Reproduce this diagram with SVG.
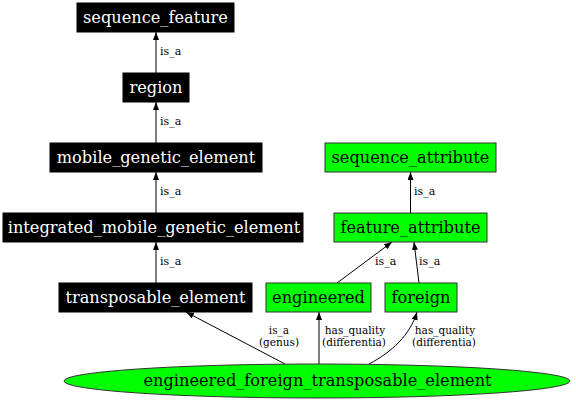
<svg xmlns="http://www.w3.org/2000/svg" width="576" height="401" viewBox="0 0 576 401">
<defs>
<marker id="arr" markerUnits="userSpaceOnUse" markerWidth="9" markerHeight="7" refX="8" refY="3" orient="auto">
<path d="M0,0 L8,3 L0,6 z" fill="#000"/>
</marker>
<style>
.bk rect{fill:#000;stroke:#000;stroke-width:1}
.gr rect,.gr ellipse{fill:#00ff00;stroke:#333;stroke-width:1}
.bk text{fill:#fff}
.nt{font-family:"DejaVu Serif",serif;font-size:16.2px;text-anchor:middle}
.gr text{fill:#000}
.e path{fill:none;stroke:#000;stroke-width:1;marker-end:url(#arr)}
.lb{font-family:"DejaVu Serif",serif;font-size:11px;fill:#000}
.ls{font-size:10.5px}
.lm{text-anchor:middle}
</style>
</defs>
<rect width="576" height="401" fill="#fff"/>
<g id="connectors" class="e">
<path d="M156,73 L156,32"/>
<path d="M156,143 L156,102"/>
<path d="M156,213 L156,172"/>
<path d="M156,283 L156,242"/>
<path d="M410.5,213 L410.5,172"/>
<path d="M337,283 L392,242"/>
<path d="M419,283 L414,242"/>
<path d="M285,364 L186,312"/>
<path d="M319,364 L319,312"/>
<path d="M369,364 C392,352 410,335 417,312"/>
<text class="lb" x="160" y="55">is_a</text>
<text class="lb" x="160" y="125">is_a</text>
<text class="lb" x="160" y="195">is_a</text>
<text class="lb" x="160" y="265">is_a</text>
<text class="lb" x="414" y="195">is_a</text>
<text class="lb" x="375" y="265">is_a</text>
<text class="lb" x="419" y="265">is_a</text>
<text class="lb ls lm" x="279" y="334">is_a</text>
<text class="lb ls lm" x="279" y="346">(genus)</text>
<text class="lb ls lm" x="355" y="334">has_quality</text>
<text class="lb ls lm" x="354" y="346">(differentia)</text>
<text class="lb ls lm" x="445" y="334">has_quality</text>
<text class="lb ls lm" x="444" y="346">(differentia)</text>
</g>
<g id="sequence_feature" class="bk"><rect x="77" y="3" width="157" height="29"/><text class="nt" x="155.5" y="22.5">sequence_feature</text></g>
<g id="region" class="bk"><rect x="123" y="73" width="66" height="29"/><text class="nt" x="156" y="92.5">region</text></g>
<g id="mobile_genetic_element" class="bk"><rect x="50" y="143" width="212" height="29"/><text class="nt" x="156" y="162.5">mobile_genetic_element</text></g>
<g id="integrated_mobile_genetic_element" class="bk"><rect x="3" y="213" width="300" height="29"/><text class="nt" x="154" y="232.5">integrated_mobile_genetic_element</text></g>
<g id="transposable_element" class="bk"><rect x="59" y="283" width="193" height="29"/><text class="nt" x="155.5" y="302.5">transposable_element</text></g>
<g id="sequence_attribute" class="gr"><rect x="325" y="143" width="171" height="29"/><text class="nt" x="410.5" y="162.5">sequence_attribute</text></g>
<g id="feature_attribute" class="gr"><rect x="334" y="213" width="153" height="29"/><text class="nt" x="410.5" y="232.5">feature_attribute</text></g>
<g id="engineered" class="gr"><rect x="266" y="283" width="105" height="29"/><text class="nt" x="318.5" y="302.5">engineered</text></g>
<g id="foreign" class="gr"><rect x="385" y="283" width="72" height="29"/><text class="nt" x="421" y="302.5">foreign</text></g>
<g id="engineered_foreign_transposable_element" class="gr"><ellipse cx="317" cy="381" rx="253" ry="17"/><text class="nt" x="317.5" y="386">engineered_foreign_transposable_element</text></g>
</svg>
